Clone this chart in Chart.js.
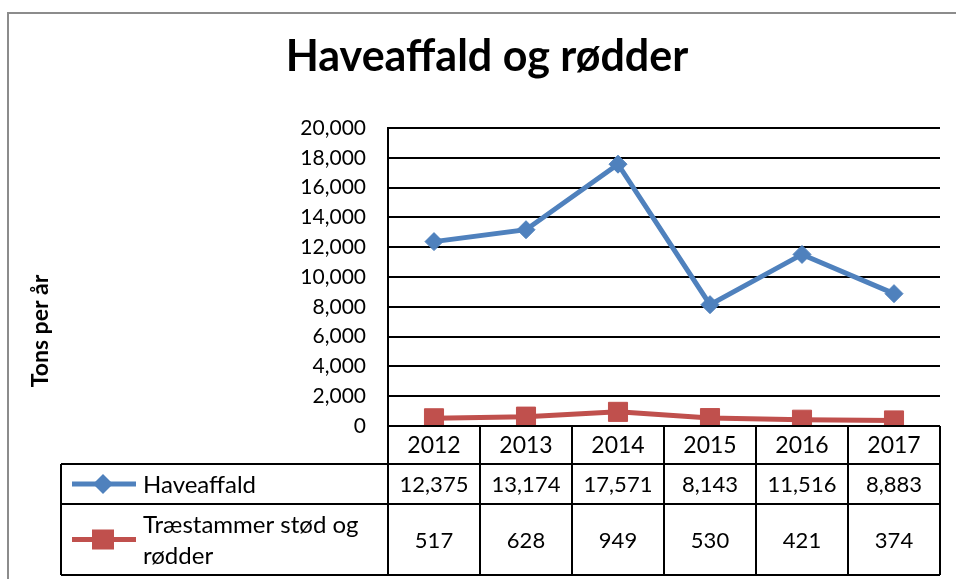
<!DOCTYPE html>
<html>
<head>
<meta charset="utf-8">
<script src="https://cdn.jsdelivr.net/npm/chart.js@4.4.1/dist/chart.umd.min.js"></script>
<style>
html,body{margin:0;padding:0;background:#fff;}
#wrap{width:956px;height:579px;position:relative;}
</style>
</head>
<body>
<div id="wrap"><canvas id="c" width="956" height="579"></canvas></div>
<script>
const chartTitle = "Haveaffald og rødder";
const yAxisTitle = "Tons per år";
const years = ["2012", "2013", "2014", "2015", "2016", "2017"];
const haveaffald = [12375, 13174, 17571, 8143, 11516, 8883];
const traestammer = [517, 628, 949, 530, 421, 374];
const seriesNames = ["Haveaffald", "Træstammer stød og rødder"];
const seriesLegendLines = [["Haveaffald"], ["Træstammer stød og", "rødder"]];
const yMin = 0, yMax = 20000, yStep = 2000;

const FONT = "Lato, 'Open Sans', sans-serif";
const fmt = v => v.toLocaleString('en-US');

const decor = {
  id: 'decor',
  beforeDraw(chart) {
    const ctx = chart.ctx;
    ctx.save();
    ctx.fillStyle = '#fff';
    ctx.fillRect(0, 0, chart.width, chart.height);
    ctx.strokeStyle = '#8c8c8c';
    ctx.lineWidth = 2;
    ctx.beginPath();
    ctx.moveTo(8, chart.height);
    ctx.lineTo(8, 13);
    ctx.lineTo(chart.width, 13);
    ctx.stroke();
    // title
    ctx.fillStyle = '#000';
    ctx.font = "bold 43px " + FONT;
    ctx.textAlign = 'center';
    ctx.textBaseline = 'middle';
    ctx.fillText(chartTitle, 487, 57);
    // y title
    ctx.save();
    ctx.translate(41, 331);
    ctx.rotate(-Math.PI / 2);
    ctx.font = "bold 23px " + FONT;
    ctx.fillText(yAxisTitle, 0, 0);
    ctx.restore();
    ctx.restore();
  },
  afterDraw(chart) {
    const ctx = chart.ctx;
    const ca = chart.chartArea;
    const xs = chart.scales.x;
    const n = years.length;
    const colW = (ca.right - ca.left) / n;
    const top = ca.bottom;
    const r1 = top + 38, r2 = r1 + 40, r3 = 575;
    const tableLeft = 61;
    ctx.save();
    ctx.strokeStyle = '#000';
    ctx.lineWidth = 2;
    ctx.beginPath();
    ctx.moveTo(ca.left, top); ctx.lineTo(ca.right, top);
    ctx.moveTo(tableLeft, r1); ctx.lineTo(ca.right, r1);
    ctx.moveTo(tableLeft, r2); ctx.lineTo(ca.right, r2);
    ctx.moveTo(tableLeft, r3); ctx.lineTo(ca.right, r3);
    ctx.moveTo(tableLeft, r1); ctx.lineTo(tableLeft, r3);
    for (let i = 0; i <= n; i++) {
      const x = ca.left + i * colW;
      ctx.moveTo(x, top); ctx.lineTo(x, r3);
    }
    ctx.stroke();
    ctx.fillStyle = '#000';
    ctx.textAlign = 'center';
    ctx.textBaseline = 'middle';
    for (let i = 0; i < n; i++) {
      const cx = xs.getPixelForValue(i);
      ctx.font = "23px " + FONT;
      ctx.fillText(years[i], cx, (top + r1) / 2 + 1);
      ctx.font = "22px " + FONT;
      ctx.fillText(fmt(haveaffald[i]), cx, (r1 + r2) / 2 + 1);
      ctx.fillText(fmt(traestammer[i]), cx, (r2 + r3) / 2 + 1);
    }
    // legend keys
    const ds = chart.data.datasets;
    const rowsMid = [(r1 + r2) / 2, (r2 + r3) / 2];
    for (let s = 0; s < 2; s++) {
      const y = rowsMid[s];
      ctx.strokeStyle = ds[s].borderColor;
      ctx.lineWidth = 5;
      ctx.beginPath();
      ctx.moveTo(72, y); ctx.lineTo(136, y);
      ctx.stroke();
      ctx.fillStyle = ds[s].backgroundColor;
      if (s === 0) {
        ctx.beginPath();
        ctx.moveTo(103, y - 10); ctx.lineTo(113, y); ctx.lineTo(103, y + 10); ctx.lineTo(93, y);
        ctx.closePath(); ctx.fill();
      } else {
        ctx.fillRect(92, y - 10, 22, 20);
      }
      ctx.fillStyle = '#000';
      ctx.textAlign = 'left';
      ctx.font = "24px " + FONT;
      const lines = seriesLegendLines[s];
      const lh = 31;
      lines.forEach((t, k) => {
        ctx.fillText(t, 143, y + (k - (lines.length - 1) / 2) * lh + 1);
      });
    }
    ctx.restore();
  }
};

new Chart(document.getElementById('c'), {
  type: 'line',
  data: {
    labels: years,
    datasets: [
      {
        label: seriesNames[0],
        data: haveaffald,
        borderColor: '#4F81BD',
        backgroundColor: '#4F81BD',
        borderWidth: 5,
        pointStyle: 'rectRot',
        pointRadius: 9,
        pointBorderWidth: 1,
        pointHoverRadius: 9,
        tension: 0
      },
      {
        label: seriesNames[1],
        data: traestammer,
        borderColor: '#C0504D',
        backgroundColor: '#C0504D',
        borderWidth: 5,
        pointStyle: 'rect',
        pointRadius: 13.5,
        pointBorderWidth: 1,
        pointHoverRadius: 13.5,
        tension: 0
      }
    ]
  },
  options: {
    responsive: false,
    animation: false,
    devicePixelRatio: 1,
    layout: { padding: { top: 128, bottom: 579 - 426, left: 0, right: 16 } },
    plugins: { legend: { display: false }, title: { display: false }, tooltip: { enabled: false } },
    scales: {
      x: { display: false, offset: true },
      y: {
        min: yMin, max: yMax,
        afterFit(scale) { scale.width = 388; },
        ticks: {
          stepSize: yStep,
          color: '#000',
          font: { family: FONT, size: 21 },
          padding: 22,
          callback: v => fmt(v)
        },
        grid: { color: '#000', lineWidth: 2, drawTicks: false },
        border: { display: true, color: '#000', width: 2 }
      }
    }
  },
  plugins: [decor]
});
</script>
</body>
</html>
